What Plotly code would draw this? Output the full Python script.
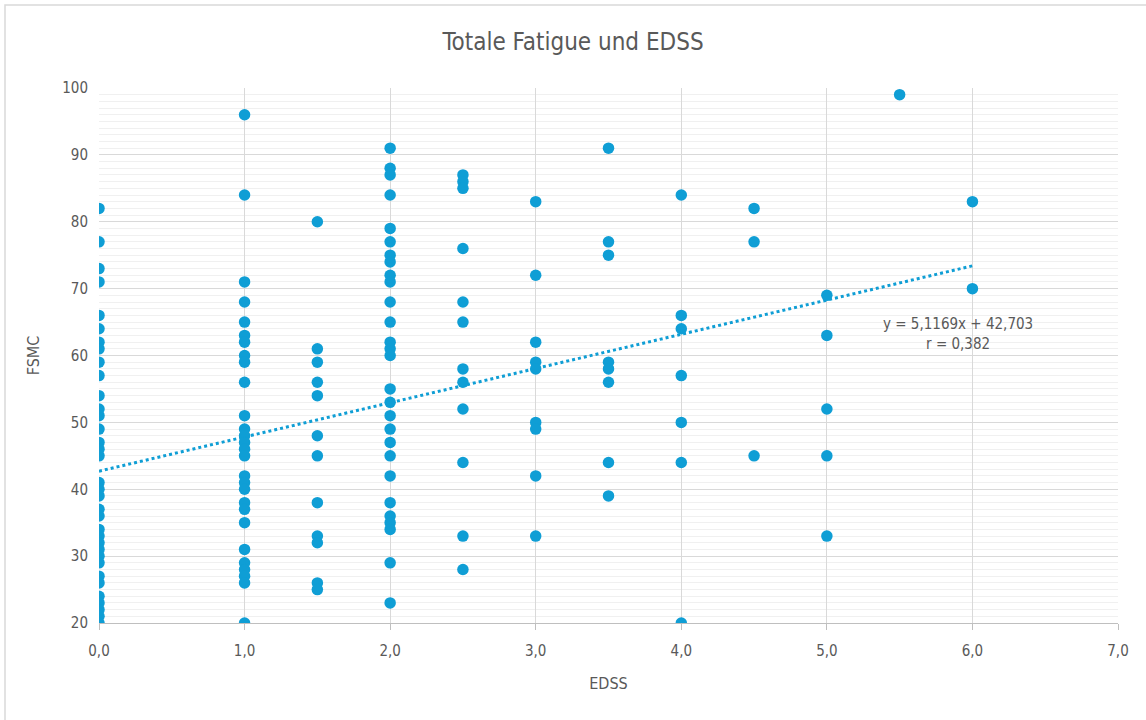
import plotly.graph_objects as go

# EDSS groups and FSMC values
edss_levels = [0.0, 1.0, 1.5, 2.0, 2.5, 3.0, 3.5, 4.0, 4.5, 5.0, 5.5, 6.0]
fsmc_0_0 = [82, 77, 73, 71, 66, 64, 62, 61, 59, 57, 54, 52, 51, 49, 47, 46, 45,
            41, 40, 39, 37, 36, 34, 33, 32, 31, 30, 29, 27, 26, 24, 23, 22, 21, 20]
fsmc_1_0 = [96, 84, 71, 68, 65, 63, 62, 60, 59, 56, 51, 49, 48, 47, 46, 45,
            42, 41, 40, 38, 37, 35, 31, 29, 28, 27, 26, 20]
fsmc_1_5 = [80, 61, 59, 56, 54, 48, 45, 38, 33, 32, 26, 25]
fsmc_2_0 = [91, 88, 87, 84, 79, 77, 75, 74, 72, 71, 68, 65, 62, 61, 60, 55, 53,
            51, 49, 47, 45, 42, 38, 36, 35, 34, 29, 23]
fsmc_2_5 = [87, 86, 85, 76, 68, 65, 58, 56, 52, 44, 33, 28]
fsmc_3_0 = [83, 72, 62, 59, 58, 50, 49, 42, 33]
fsmc_3_5 = [91, 77, 75, 59, 58, 56, 44, 39]
fsmc_4_0 = [84, 66, 64, 57, 50, 44, 20]
fsmc_4_5 = [82, 77, 45]
fsmc_5_0 = [69, 63, 52, 45, 33]
fsmc_5_5 = [99]
fsmc_6_0 = [83, 70]
fsmc_groups = [fsmc_0_0, fsmc_1_0, fsmc_1_5, fsmc_2_0, fsmc_2_5, fsmc_3_0,
               fsmc_3_5, fsmc_4_0, fsmc_4_5, fsmc_5_0, fsmc_5_5, fsmc_6_0]

# Trendline as stated on the chart
trend_slope = 5.1169
trend_intercept = 42.703
trend_r = 0.382
trend_x = [0.0, 6.0]

x_vals, y_vals = [], []
for lvl, grp in zip(edss_levels, fsmc_groups):
    x_vals += [lvl] * len(grp)
    y_vals += grp

BLUE = "#0F9ED5"
FONT = "Liberation Sans Narrow, DejaVu Sans Condensed, Arial Narrow, sans-serif"
TXT = "#595959"

fig = go.Figure()
fig.add_trace(go.Scatter(
    x=trend_x, y=[trend_slope * v + trend_intercept for v in trend_x],
    mode="lines", line=dict(color=BLUE, width=3, dash="dot"),
    hoverinfo="skip", showlegend=False))
fig.add_trace(go.Scatter(
    x=x_vals, y=y_vals, mode="markers",
    marker=dict(color=BLUE, size=11.5, line=dict(width=0)),
    showlegend=False))

eq_text = (f"y = {trend_slope:.4f}x + {trend_intercept:.3f}".replace(".", ",")
           + "<br>" + f"r = {trend_r:.3f}".replace(".", ","))
fig.add_annotation(x=5.9, y=63.2, text=eq_text, showarrow=False,
                   font=dict(family=FONT, size=15, color=TXT), align="center")

# outer chart frame
fig.add_shape(type="rect", xref="paper", yref="paper",
              x0=(5 - 99) / 1019, x1=1.2, y0=-0.5, y1=(623 - 5) / 535,
              line=dict(color="#D9D9D9", width=1.5), fillcolor="rgba(0,0,0,0)",
              layer="below")

fig.update_layout(
    width=1146, height=720,
    margin=dict(l=99, r=28, t=88, b=97),
    paper_bgcolor="white", plot_bgcolor="white",
    separators=", ",
    title=dict(text="Totale Fatigue und EDSS", x=0.5, xanchor="center",
               y=1 - 42 / 720, yanchor="middle",
               font=dict(family=FONT, size=24, color=TXT)),
    font=dict(family=FONT, size=15, color=TXT),
    xaxis=dict(range=[0, 7], dtick=1, tick0=0, tickformat=".1f",
               showgrid=True, gridcolor="#D9D9D9", gridwidth=1,
               showline=True, linecolor="#BFBFBF", linewidth=1,
               ticks="outside", ticklen=6, tickcolor="#BFBFBF",
               ticklabelstandoff=8, zeroline=False,
               title=dict(text="EDSS", standoff=18,
                          font=dict(family=FONT, size=16, color=TXT))),
    yaxis=dict(range=[20, 100], dtick=10, tick0=20,
               showgrid=True, gridcolor="#D9D9D9", gridwidth=1,
               minor=dict(dtick=1, showgrid=True, gridcolor="#F0F0F0", gridwidth=1),
               showline=False, zeroline=False, ticks="", ticklabelstandoff=10,
               title=dict(text="FSMC", standoff=18,
                          font=dict(family=FONT, size=16, color=TXT))),
)

fig.write_html("out.html",
               config={"displayModeBar": False},
               post_script="document.body.style.margin='0';document.body.style.overflow='hidden';")
